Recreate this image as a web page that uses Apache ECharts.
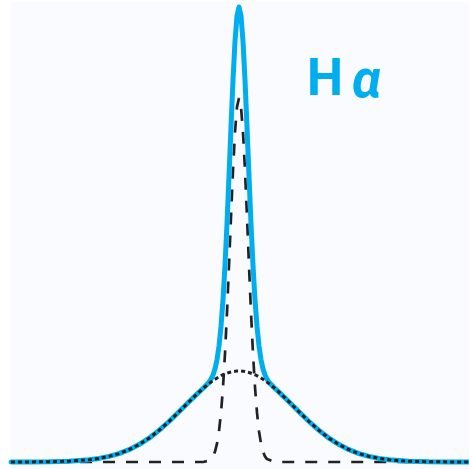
<!DOCTYPE html>
<html>
<head>
<meta charset="utf-8">
<script src="https://cdn.jsdelivr.net/npm/echarts@6/dist/echarts.min.js"></script>
<style>html,body{margin:0;padding:0;background:#fff}#c{width:469px;height:469px}</style>
</head>
<body>
<div id="c"></div>
<script>
// offsets from line centre (x units)
var xs = [-228,-210,-190,-170,-150,-140,-130,-120,-110,-100,-90,-80,-70,-60,-50,-40,-35,-30,-28,-26,-24,-22,-20,-18,-16,-14,-12,-10,-8,-6,-4,-2,
  0,
  2,4,6,8,10,12,14,16,18,20,22,24,26,28,30,35,40,50,60,70,80,90,100,110,120,130,140,150,170,190,210,230];
// narrow component (dashed)
var narrow = [0,0,0,0,0,0,0,0,0,0,0,0,0,0,0,0,0.2,1.4,2.9,5.6,10.4,18.3,30.8,49.3,74.9,108.5,149.6,196.3,245.2,291.5,329.8,355.1,
  364,
  355.1,329.8,291.5,245.2,196.3,149.6,108.5,74.9,49.3,30.8,18.3,10.4,5.6,2.9,1.4,0.2,0,0,0,0,0,0,0,0,0,0,0,0,0,0,0,0];
// broad component (dotted)
var broad = [0,0.1,0.2,0.8,2.2,3.6,5.6,8.4,12.3,17.4,23.8,31.6,40.5,50.2,60.2,69.9,74.3,78.4,79.9,81.4,82.7,84.0,85.2,86.3,87.2,88.1,88.9,89.5,90.0,90.5,90.8,90.9,
  91,
  90.9,90.8,90.5,90.0,89.5,88.9,88.1,87.2,86.3,85.2,84.0,82.7,81.4,79.9,78.4,74.3,69.9,60.2,50.2,40.5,31.6,23.8,17.4,12.3,8.4,5.6,3.6,2.2,0.8,0.2,0.1,0];
// total profile (solid blue)
var total = [0,0.1,0.2,0.8,2.2,3.6,5.6,8.4,12.3,17.4,23.8,31.6,40.5,50.2,60.2,69.9,74.5,79.8,82.8,87.0,93.1,102.3,116.0,135.6,162.1,196.6,238.5,285.8,335.2,382.0,420.6,446.0,
  455,
  446.0,420.6,382.0,335.2,285.8,238.5,196.6,162.1,135.6,116.0,102.3,93.1,87.0,82.8,79.8,74.5,69.9,60.2,50.2,40.5,31.6,23.8,17.4,12.3,8.4,5.6,3.6,2.2,0.8,0.2,0.1,0];

function zip(a){ return xs.map(function(x,i){ return [x, a[i]]; }); }

var blue = '#00aeef';
var chart = echarts.init(document.getElementById('c'));
chart.setOption({
  animation: false,
  grid: {left: 11, right: 0, top: 2, bottom: 0, show: true, backgroundColor: '#f9fbfe', borderWidth: 0},
  xAxis: {type: 'value', min: -228, max: 230, show: false},
  yAxis: {type: 'value', min: -7, max: 460, show: false},
  series: [
    {type: 'line', data: zip(narrow), showSymbol: false, symbol: 'none', z: 2,
     lineStyle: {color: '#222', width: 2.7, type: [12, 11]}},
    {type: 'line', data: zip(total), showSymbol: false, symbol: 'none', z: 3,
     lineStyle: {color: blue, width: 5, join: 'round', cap: 'round'}},
    {type: 'line', data: zip(broad), showSymbol: false, symbol: 'none', z: 4,
     lineStyle: {color: '#222', width: 3, type: [4, 3]}}
  ],
  graphic: [
    {type: 'text', left: 307, top: 57, z: 10,
     style: {text: 'H', fill: blue, font: 'bold 51px Roboto'}},
    {type: 'text', left: 352, top: 57, z: 10,
     style: {text: 'α', fill: blue, font: 'italic bold 53px Roboto'}}
  ]
});
</script>
</body>
</html>
